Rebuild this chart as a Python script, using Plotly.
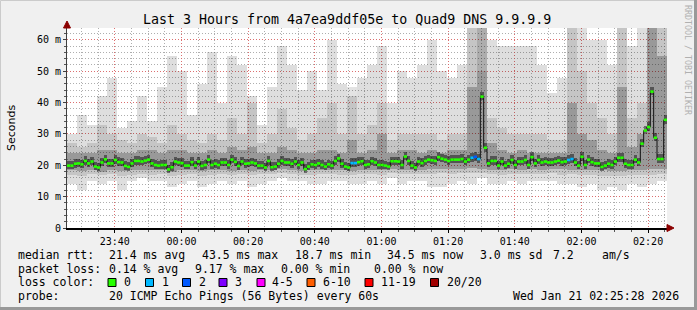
import plotly.graph_objects as go
import pandas as pd

# ---------------- data ----------------
title_text = "Last 3 Hours from 4a7ea9ddf05e to Quad9 DNS 9.9.9.9"
start_time = "2026-01-20 23:25:40"
end_time = "2026-01-21 02:25:40"

# median rtt per minute (ms), 180 steps
median_ms = [
    19.9, 19.9, 20.5, 20.6, 20.3, 21.4, 20.6, 21.2, 19.6, 19.3, 20.9, 21.9, 20.6, 20.6, 21.7, 21.0, 20.9, 19.8,
    19.5, 20.6, 21.4, 21.4, 21.2, 21.5, 21.8, 20.6, 20.1, 19.9, 20.1, 20.1, 18.7, 19.4, 21.2, 20.9, 20.7, 19.9,
    19.9, 21.0, 19.9, 21.2, 19.8, 20.1, 21.8, 20.1, 20.5, 20.1, 20.9, 20.9, 20.1, 21.8, 21.1, 19.8, 21.2, 20.5,
    20.6, 20.9, 20.6, 19.9, 19.9, 19.3, 21.4, 19.4, 19.6, 20.5, 21.4, 20.9, 20.9, 20.5, 21.2, 20.1, 20.9, 18.8,
    19.6, 20.3, 20.1, 20.6, 20.1, 19.6, 20.3, 19.9, 21.4, 22.2, 20.5, 19.6, 19.3, 20.7, 20.7, 21.0, 21.3, 20.1,
    20.3, 21.3, 20.9, 20.1, 20.1, 19.9, 19.6, 21.3, 21.3, 21.2, 20.1, 22.8, 21.4, 19.9, 19.3, 21.2, 20.7, 21.4,
    21.8, 21.6, 21.4, 22.6, 22.1, 21.8, 21.4, 21.8, 21.8, 21.8, 22.0, 21.2, 21.8, 22.4, 22.7, 22.0, 41.9, 25.6,
    20.6, 21.4, 21.4, 19.9, 21.2, 19.9, 20.5, 21.7, 20.1, 21.2, 21.2, 21.7, 20.1, 22.6, 20.6, 21.7, 20.9, 21.2,
    20.9, 20.9, 21.2, 21.5, 21.0, 21.2, 21.7, 22.0, 20.9, 19.9, 22.7, 20.1, 21.8, 21.0, 20.6, 20.6, 19.5, 19.9,
    20.5, 20.1, 21.2, 22.4, 22.4, 20.5, 20.1, 20.1, 21.8, 20.9, 26.9, 31.1, 32.2, 43.5, 28.8, 22.0, 22.0, 34.5,
]
# lost pings (of 20) per minute index; all other minutes 0
loss_events = {85: 1, 86: 1, 121: 1, 122: 2, 123: 1, 150: 1, 151: 1}

# smoke envelopes per 3-minute block (ms), 60 blocks
smoke_max = [30, 36, 33, 42, 48, 32, 34, 42, 34, 45, 55, 50,
             36, 46, 56, 40, 55, 52, 42, 33, 45, 58, 52, 44,
             50, 44, 60, 46, 42, 48, 52, 58, 40, 50, 48, 52,
             60, 50, 48, 52, 64, 64, 60, 58, 58, 58, 58, 52,
             43, 48, 64, 64, 60, 60, 52, 64, 58, 64, 64, 64]
smoke_hi2 = [27, 26, 27, 33, 30, 28, 27, 30, 29, 27, 33, 30,
             28, 27, 30, 28, 35, 30, 40, 27, 30, 38, 32, 28,
             30, 35, 40, 30, 45, 30, 33, 40, 28, 30, 30, 30,
             30, 28, 30, 30, 64, 50, 35, 32, 30, 30, 30, 30,
             28, 28, 64, 50, 40, 35, 30, 64, 35, 40, 64, 64]
smoke_hi3 = [24, 24, 24, 25, 25, 24, 24, 25, 25, 24, 25, 25,
             24, 24, 25, 24, 26, 25, 26, 24, 24, 26, 25, 24,
             24, 25, 25, 24, 28, 24, 25, 30, 24, 25, 25, 24,
             25, 24, 25, 25, 45, 64, 27, 25, 24, 25, 24, 24,
             24, 24, 40, 30, 28, 25, 24, 45, 26, 30, 64, 55]
smoke_lo3 = [18.5, 18.3, 18.5, 18.0, 18.5, 18.2, 18.4, 18.6, 18.4, 18.5, 17.8, 18.4,
             18.5, 18.2, 18.4, 18.6, 18.3, 18.5, 18.2, 18.6, 18.5, 18.7, 18.4, 18.3,
             18.4, 18.5, 18.6, 18.4, 18.3, 18.6, 18.5, 18.4, 18.7, 18.5, 18.4, 18.6,
             18.8, 18.9, 18.8, 18.9, 19.0, 18.8, 18.6, 18.5, 18.7, 18.6, 18.7, 18.6,
             18.8, 18.7, 18.6, 18.5, 18.6, 18.4, 18.3, 18.2, 18.5, 18.6, 18.7, 18.8]
smoke_lo2 = [17.0, 16.6, 17.2, 16.8, 17.1, 16.5, 17.0, 17.3, 17.0, 17.2, 16.6, 17.0,
             17.1, 16.7, 16.9, 17.2, 17.0, 17.1, 16.8, 17.2, 17.3, 17.4, 17.1, 17.0,
             17.0, 17.1, 17.2, 17.0, 16.8, 17.1, 17.2, 17.0, 17.4, 17.1, 17.2, 17.3,
             17.3, 17.5, 17.2, 17.5, 17.6, 17.4, 17.2, 17.0, 17.3, 17.1, 17.3, 17.2,
             17.4, 17.0, 17.1, 16.8, 17.0, 16.6, 16.7, 16.5, 16.9, 16.8, 17.0, 17.3]
smoke_min = [14, 12, 15, 14, 15, 12, 15, 16, 15, 15, 13, 14,
             15, 13, 14, 15, 14, 15, 13, 14, 15, 16, 15, 15,
             14, 14, 15, 15, 14, 14, 15, 14, 16, 14, 15, 15,
             13, 13, 14, 15, 14, 16, 14, 14, 15, 14, 15, 15,
             15, 14, 14, 13, 14, 12, 13, 12, 14, 13, 14, 15]

y_tick_vals = [0, 10, 20, 30, 40, 50, 60]
y_tick_text = ["0", "10 m", "20 m", "30 m", "40 m", "50 m", "60 m"]
x_tick_dates = ["2026-01-20 23:40", "2026-01-21 00:00", "2026-01-21 00:20", "2026-01-21 00:40",
                "2026-01-21 01:00", "2026-01-21 01:20", "2026-01-21 01:40", "2026-01-21 02:00",
                "2026-01-21 02:20"]
x_tick_text = ["23:40", "00:00", "00:20", "00:40", "01:00", "01:20", "01:40", "02:00", "02:20"]

loss_colors = {0: "#26ff00", 1: "#00b8ff", 2: "#0059ff", 3: "#7e00ff", 4: "#ff00ff",
               6: "#ff5e00", 11: "#ff0000", 20: "#a10000"}
legend_labels = ["0", "1", "2", "3", "4-5", "6-10", "11-19", "20/20"]
legend_colors = ["#26ff00", "#00b8ff", "#0059ff", "#7e00ff", "#ff00ff", "#ff5e00", "#ff0000", "#a10000"]

rtt_stats = ["median rtt:", "21.4 ms avg", "43.5 ms max", "18.7 ms min", "34.5 ms now", "3.0 ms sd", "7.2", "am/s"]
loss_stats = ["packet loss:", "0.14 % avg", "9.17 % max", "0.00 % min", "0.00 % now"]
probe_text = ["probe:", "20 ICMP Echo Pings (56 Bytes) every 60s"]
stamp_text = "Wed Jan 21 02:25:28 2026"

# ---------------- geometry helpers (pixel -> paper) ----------------
L, T, PW, PH = 67, 28, 600, 200


def px(x):
    return (x - L) / PW


def py(y):
    return (T + PH - y) / PH


MONO = "DejaVu Sans Mono"

times = pd.date_range(start_time, periods=len(median_ms), freq="60s")
blocks = pd.date_range(start_time, periods=len(smoke_max), freq="180s") + pd.Timedelta(seconds=90)

fig = go.Figure()


def smoke_layer(lo, hi, color):
    fig.add_trace(go.Bar(x=blocks, y=[h - l for l, h in zip(lo, hi)], base=lo, width=180000,
                         marker=dict(color=color, line=dict(width=0)), hoverinfo="skip"))


smoke_layer(smoke_min, smoke_max, "rgba(0,0,0,0.13)")
smoke_layer(smoke_lo2, smoke_hi2, "rgba(0,0,0,0.11)")
smoke_layer(smoke_lo3, smoke_hi3, "rgba(0,0,0,0.22)")

# dark core around the median
core_lo = [m - 1.2 for m in median_ms]
fig.add_trace(go.Bar(x=times + pd.Timedelta(seconds=30), y=[2.7] * len(median_ms), base=core_lo, width=60000,
                     marker=dict(color="rgba(0,0,0,0.45)", line=dict(width=0)), hoverinfo="skip"))

# median connecting step line
step_x = list(times) + [times[-1] + pd.Timedelta(seconds=60)]
step_y = median_ms + [median_ms[-1]]
fig.add_trace(go.Scatter(x=step_x, y=step_y, mode="lines", line=dict(color="#111111", width=1, shape="hv"),
                         hoverinfo="skip"))


def loss_bucket(n):
    k = 0
    for key in sorted(loss_colors):
        if n >= key:
            k = key
    return k


groups = {}
for i, (t, m) in enumerate(zip(times, median_ms)):
    c = loss_colors[loss_bucket(loss_events.get(i, 0))]
    gx, gy = groups.setdefault(c, ([], []))
    gx += [t, t + pd.Timedelta(seconds=60), None]
    gy += [m, m, None]
for c, (gx, gy) in groups.items():
    fig.add_trace(go.Scatter(x=gx, y=gy, mode="lines", line=dict(color=c, width=2.6), hoverinfo="skip"))

# ---------------- layout ----------------
MAJOR_GRID = "rgba(235,90,90,0.75)"
MINOR_GRID = "rgba(140,140,140,0.7)"
DOTS = "1px,2px"

fig.update_layout(
    width=697, height=310, margin=dict(l=L, r=697 - L - PW, t=T, b=310 - T - PH, pad=0),
    paper_bgcolor="#f0f0f0", plot_bgcolor="#ffffff", showlegend=False,
    barmode="overlay", bargap=0,
    font=dict(family=MONO, size=10, color="#000000"),
)
fig.update_xaxes(
    type="date", range=[start_time, end_time], tickvals=x_tick_dates, ticktext=x_tick_text,
    showgrid=True, gridcolor=MAJOR_GRID, griddash=DOTS, gridwidth=1,
    showline=True, linecolor="#000000", linewidth=1.5, ticks="outside", ticklen=3, tickcolor="#000000",
    tickfont=dict(family=MONO, size=10, color="#000000"),
    minor=dict(dtick=300000, tick0="2026-01-20 23:00", showgrid=True, gridcolor=MINOR_GRID,
               griddash=DOTS, ticks="outside", ticklen=2, tickcolor="#555555"),
    zeroline=False, fixedrange=True,
)
fig.update_yaxes(
    range=[0, 63.8], tickvals=y_tick_vals, ticktext=y_tick_text,
    showgrid=True, gridcolor=MAJOR_GRID, griddash=DOTS, gridwidth=1,
    showline=True, linecolor="#404040", linewidth=1, ticks="outside", ticklen=3, tickcolor="#404040",
    tickfont=dict(family=MONO, size=10, color="#000000"),
    minor=dict(dtick=2, showgrid=True, gridcolor=MINOR_GRID, griddash=DOTS,
               ticks="outside", ticklen=2, tickcolor="#555555"),
    zeroline=False, fixedrange=True,
)

ann = []


def text(x, y, s, size=11.5, anchor="left", color="#000000", family=MONO, angle=0):
    ann.append(dict(x=px(x), y=py(y), xref="paper", yref="paper", text=s, showarrow=False,
                    xanchor=anchor, yanchor="middle", textangle=angle,
                    font=dict(family=family, size=size, color=color)))


text(347, 19, title_text, size=13.3, anchor="center")
text(688, 60, "RRDTOOL / TOBI OETIKER", size=8.3, anchor="center", color="#b0b0b0", angle=90)
text(11, 128, "Seconds", size=11, anchor="center", family="DejaVu Sans", angle=-90)

row_y = [255, 268.5, 282.2, 295.7]
rtt_x = [16, 107, 200, 293, 385, 478, 551, 600]
for xx, s in zip(rtt_x, rtt_stats):
    text(xx, row_y[0], s)
loss_x = [16, 107, 193, 279, 372]
for xx, s in zip(loss_x, loss_stats):
    text(xx, row_y[1], s)
text(16, row_y[2], "loss color:")
box_x = [108, 145.5, 182.5, 219, 257, 307, 365, 430.5]
lab_x = [122, 159.5, 196.5, 233, 270, 321, 379, 444.5]
shapes = []
for bx, lx, lab, col in zip(box_x, lab_x, legend_labels, legend_colors):
    shapes.append(dict(type="rect", xref="paper", yref="paper", x0=px(bx), x1=px(bx + 8),
                       y0=py(286.5), y1=py(278.5), fillcolor=col, line=dict(color="#000000", width=1)))
    text(lx, row_y[2], lab)
text(16, row_y[3], probe_text[0])
text(107, row_y[3], probe_text[1])
text(681, row_y[3], stamp_text, anchor="right")

# axis arrows
shapes.append(dict(type="path", xref="paper", yref="paper",
                   path=f"M {px(63.5)},{py(28)} L {px(70.5)},{py(28)} L {px(67)},{py(21)} Z",
                   fillcolor="#8b0000", line=dict(color="#8b0000", width=1)))
shapes.append(dict(type="path", xref="paper", yref="paper",
                   path=f"M {px(667)},{py(224.5)} L {px(667)},{py(231.5)} L {px(674)},{py(228)} Z",
                   fillcolor="#8b0000", line=dict(color="#8b0000", width=1)))
# 3D frame
shapes.append(dict(type="line", xref="paper", yref="paper", x0=px(0.5), x1=px(696), y0=py(0.5), y1=py(0.5),
                   line=dict(color="#cbcbcb", width=1)))
shapes.append(dict(type="line", xref="paper", yref="paper", x0=px(0.5), x1=px(0.5), y0=py(0.5), y1=py(309),
                   line=dict(color="#cbcbcb", width=1)))
shapes.append(dict(type="line", xref="paper", yref="paper", x0=px(695.5), x1=px(695.5), y0=py(0), y1=py(310),
                   line=dict(color="#999999", width=3)))
shapes.append(dict(type="line", xref="paper", yref="paper", x0=px(0), x1=px(697), y0=py(308.5), y1=py(308.5),
                   line=dict(color="#999999", width=3)))

fig.update_layout(annotations=ann, shapes=shapes)
fig.write_html("out.html")
